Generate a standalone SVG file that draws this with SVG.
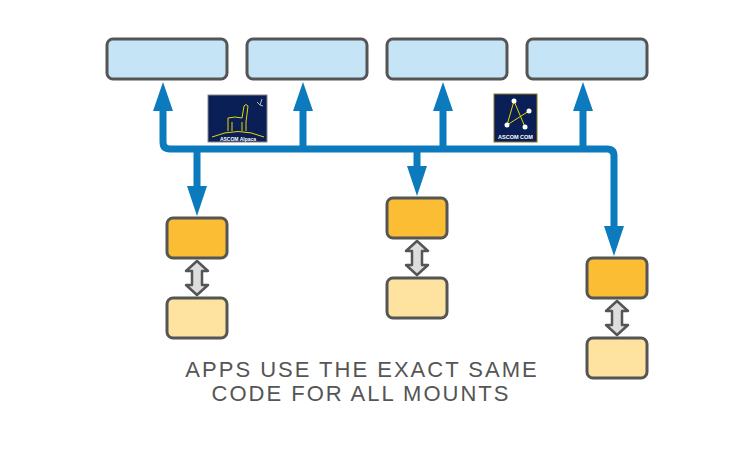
<svg xmlns="http://www.w3.org/2000/svg" width="754" height="457" viewBox="0 0 754 457">
<style>
.b{fill:#c5e5f7;stroke:#555;stroke-width:3}
.o{fill:#fbbd34;stroke:#555;stroke-width:3}
.l{fill:#fde2a0;stroke:#555;stroke-width:3}
.c{fill:none;stroke:#0b7bbd;stroke-width:7}
.h{fill:#0b7bbd}
.d{fill:#ddd;stroke:#555;stroke-width:2.5;stroke-linejoin:round}
.t{font-family:"Liberation Sans",sans-serif;font-size:22px;fill:#555;text-anchor:middle;letter-spacing:2px}
</style>
<rect width="754" height="457" fill="#fff"/>
<g id="top1"><rect class="b" x="107" y="39" width="120" height="40" rx="6"/></g>
<g id="top2"><rect class="b" x="247" y="39" width="120" height="40" rx="6"/></g>
<g id="top3"><rect class="b" x="387" y="39" width="120" height="40" rx="6"/></g>
<g id="top4"><rect class="b" x="527" y="39" width="120" height="40" rx="6"/></g>
<g id="connectors">
<path class="c" d="M163 108 V142 Q163 149 170 149 H607 Q614 149 614 156 V232"/>
<path class="c" d="M303 108 V149 M443 108 V149 M583 108 V149 M197 149 V188 M417 149 V168"/>
<polygon class="h" points="163,82 153,111 173,111"/>
<polygon class="h" points="303,82 293,111 313,111"/>
<polygon class="h" points="443,82 433,111 453,111"/>
<polygon class="h" points="583,82 573,111 593,111"/>
<polygon class="h" points="197,216 187,186 207,186"/>
<polygon class="h" points="417,196 407,166 427,166"/>
<polygon class="h" points="614,256 604,226 624,226"/>
<path class="d" d="M197 261 L208 271 L202 271 L202 285 L208 285 L197 295 L186 285 L192 285 L192 271 L186 271 Z"/>
<path class="d" d="M417 241 L428 251 L422 251 L422 265 L428 265 L417 275 L406 265 L412 265 L412 251 L406 251 Z"/>
<path class="d" d="M617 301 L628 311 L622 311 L622 325 L628 325 L617 335 L606 325 L612 325 L612 311 L606 311 Z"/>
</g>
<g id="logo1">
<rect x="208" y="95" width="59" height="47" fill="#0a1f55" stroke="#888" stroke-width="1"/>
<path d="M212 137 Q238 126 264 137" fill="none" stroke="#e6d800" stroke-width="1"/>
<path d="M228 131 V118 Q235 116 242 118 L244 106 Q246 103 248 106 L246 122 V131 M232 131 V122 M242 131 V122" fill="none" stroke="#e6d800" stroke-width="1"/>
<path d="M257 102 L260 105 L262 99 M260 105 L263 106" stroke="#ddd" stroke-width="0.8" fill="none"/>
<text x="238" y="141" font-family="Liberation Sans,sans-serif" font-size="5" fill="#fff" text-anchor="middle" font-weight="bold">ASCOM Alpaca</text>
</g>
<g id="logo2">
<rect x="494" y="94" width="43" height="48" fill="#0a1f55" stroke="#8a7a20" stroke-width="1"/>
<path d="M507 125 L514 101 L525 127 M507 125 L529 111" fill="none" stroke="#e6d800" stroke-width="1"/>
<circle cx="514" cy="101" r="2.5" fill="#fff"/><circle cx="529" cy="111" r="2.5" fill="#fff"/><circle cx="507" cy="125" r="2.5" fill="#fff"/><circle cx="525" cy="127" r="2.5" fill="#fff"/>
<text x="515.5" y="139" font-family="Liberation Sans,sans-serif" font-size="5.5" fill="#fff" text-anchor="middle" font-weight="bold">ASCOM COM</text>
</g>
<g id="app1"><rect class="o" x="167" y="218" width="60" height="40" rx="6"/><rect class="l" x="167" y="298" width="60" height="40" rx="6"/></g>
<g id="app2"><rect class="o" x="387" y="198" width="60" height="40" rx="6"/><rect class="l" x="387" y="278" width="60" height="40" rx="6"/></g>
<g id="app3"><rect class="o" x="587" y="258" width="60" height="40" rx="6"/><rect class="l" x="587" y="338" width="60" height="40" rx="6"/></g>
<text class="t" x="362" y="377">APPS USE THE EXACT SAME</text>
<text class="t" x="361" y="401">CODE FOR ALL MOUNTS</text>
</svg>
